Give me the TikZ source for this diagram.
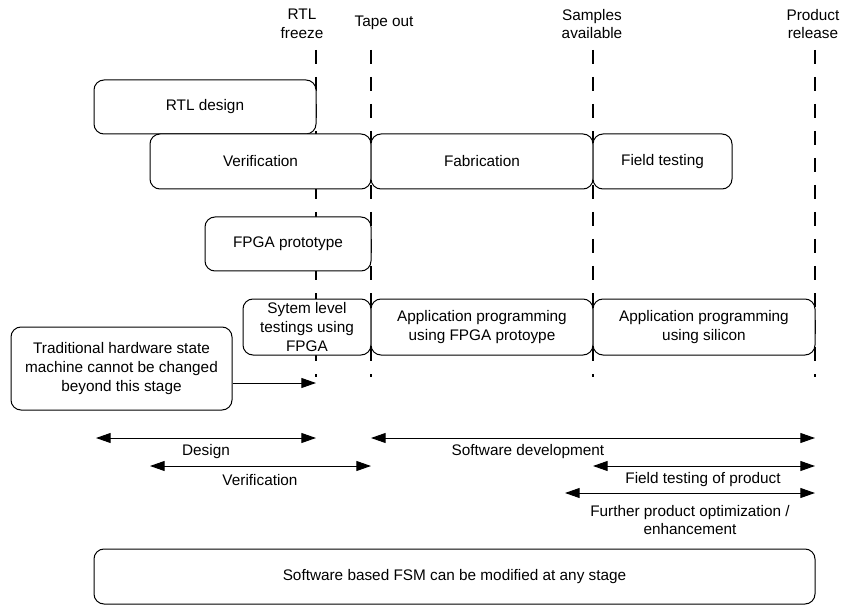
\documentclass[tikz,border=0pt]{standalone}
\usepackage{fontspec}
\setmainfont{Liberation Sans}
\usetikzlibrary{arrows.meta}

\tikzset{
    phase/.style={draw,
        rounded corners=7.5pt,
        fill=white,
        line width=0.75pt,
        align=center,
        inner sep=2pt
    },
    milestone/.style={line width=1.5pt,
        dash pattern=on 10.5pt off 9.75pt
    },
    tip/.style={-{Triangle[length=11pt,width=7.5pt]}, line width=0.75pt},
    span/.style={{Triangle[length=11pt,width=7.5pt]}-{Triangle[length=11pt,width=7.5pt]},
        line width=0.75pt
    },
    lbl/.style={align=center, inner sep=0pt}
}

\begin{document}
\begin{tikzpicture}[x=0.75pt, y=-0.75pt,
    font=\fontsize{11.5}{14}\selectfont]

    \useasboundingbox (0,0) rectangle (843,606);

    % milestones
    \node[lbl] (freeze) at (302,24) {RTL\\freeze};
    \node[lbl] (tapeout) at (384,23) {Tape out};
    \node[lbl] (samples) at (592,24) {Samples\\available};
    \node[lbl] (release) at (813,24) {Product\\release};
    \foreach \xm in {316,371,593,815}
        \draw[milestone] (\xm,50) -- (\xm,377);

    % hardware phases
    \node[phase,
        minimum width=166.5pt,
        minimum height=40.5pt
    ] (rtl) at (205,107) {RTL design};
    \node[phase,
        minimum width=165.75pt,
        minimum height=41.25pt
    ] (verif) at (260.5,161.5) {Verification};
    \node[phase,
        minimum width=166.5pt,
        minimum height=41.25pt
    ] (fab) at (482,161.5) {Fabrication};
    \node[phase,
        minimum width=104.25pt,
        minimum height=41.25pt
    ] (field) at (662.5,161.5) {Field testing};
    \node[phase,
        minimum width=124.5pt,
        minimum height=40.5pt
    ] (fpga) at (288,244) {FPGA prototype};

    % software phases
    \node[phase,
        minimum width=96pt,
        minimum height=42pt
    ] (systest) at (307,327) {Sytem level\\testings using\\FPGA};
    \node[phase,
        minimum width=166.5pt,
        minimum height=42pt
    ] (appfpga) at (482,327) {Application programming\\using FPGA protoype};
    \node[phase,
        minimum width=166.5pt,
        minimum height=42pt
    ] (appsil) at (704,327) {Application programming\\using silicon};

    \node[phase,
        minimum width=165.75pt,
        minimum height=62.25pt
    ] (trad) at (121.5,368.5) {Traditional hardware state\\machine cannot be changed\\beyond this stage};
    \coordinate (stop) at (316,383);
    \draw[tip] (trad.east |- stop) -- (stop);

    % spans
    \coordinate (des1) at (96,438);
    \coordinate (des2) at (316,438);
    \coordinate (ver1) at (150,466);
    \coordinate (ver2) at (371,466);
    \coordinate (sw1) at (371,438);
    \coordinate (sw2) at (815,438);
    \coordinate (ft1) at (593,466);
    \coordinate (ft2) at (815,466);
    \coordinate (opt1) at (565,493);
    \coordinate (opt2) at (815,493);

    \draw[span] (des1) -- (des2);
    \draw[span] (ver1) -- (ver2);
    \draw[span] (sw1) -- (sw2);
    \draw[span] (ft1) -- (ft2);
    \draw[span] (opt1) -- (opt2);

    \node[lbl] (deslbl) at (206,452) {Design};
    \node[lbl] (verlbl) at (260,480) {Verification};
    \node[lbl] (swlbl) at (528,452) {Software development};
    \node[lbl] (ftlbl) at (703,480) {Field testing of product};
    \node[lbl] (optlbl) at (690,520) {Further product optimization /\\enhancement};

    \node[phase,
        minimum width=540.75pt,
        minimum height=41.25pt
    ] (fsm) at (454.5,576.5) {Software based FSM can be modified at any stage};

\end{tikzpicture}
\end{document}
